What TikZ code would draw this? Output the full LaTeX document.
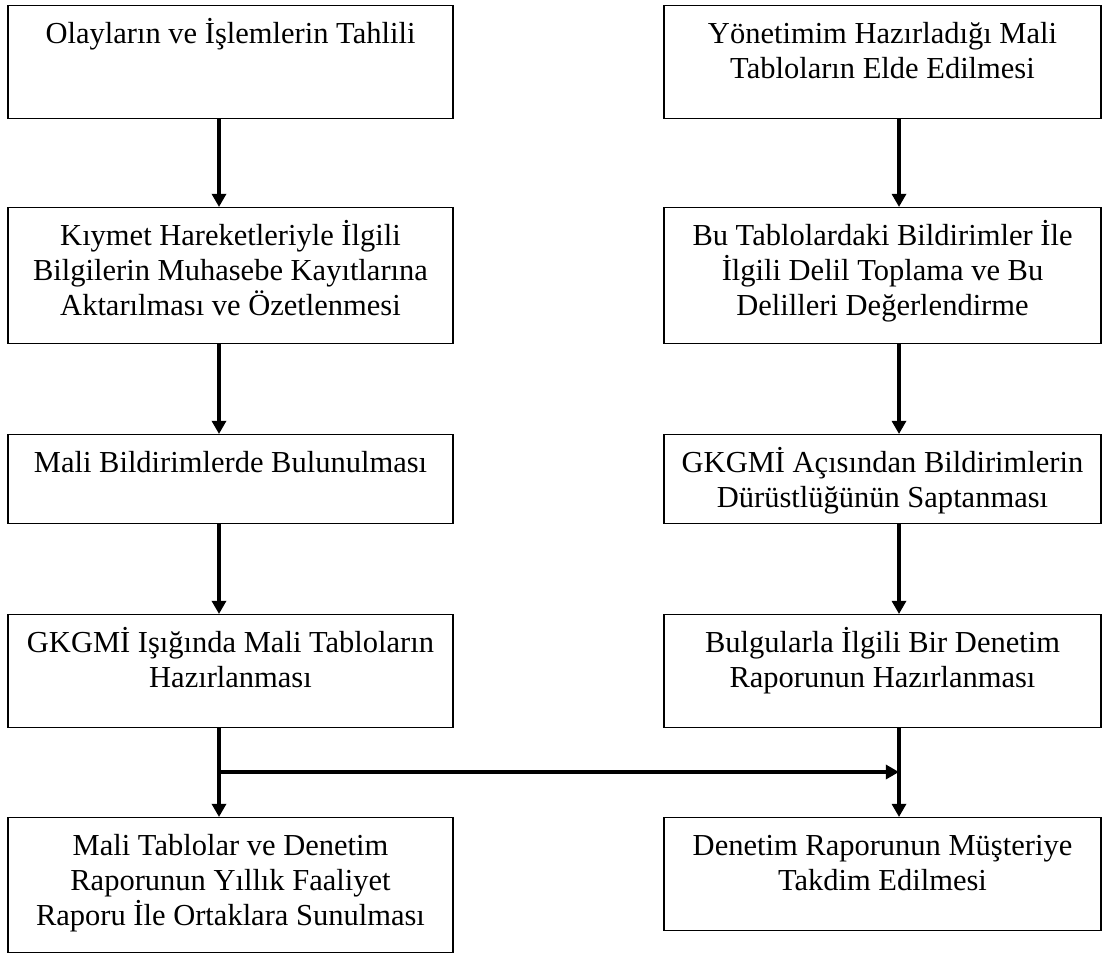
\documentclass[tikz,border=0pt]{standalone}
\usepackage{fontspec}
\setmainfont{Liberation Serif}
\usetikzlibrary{arrows.meta,positioning}

\begin{document}
\begin{tikzpicture}[>={Triangle[width=0.35cm,length=0.33cm]},
        box/.style={draw, line width=1pt, anchor=north, inner sep=0pt},
        lbox/.style={box, minimum width=11.125cm},
        rbox/.style={box, minimum width=10.925cm},
        txt/.style={inner sep=0pt, align=flush center, text width=10.6cm,
            font=\fontsize{21.7}{24.9}\selectfont,
            execute at begin node={\rule{0pt}{0.7cm}}},
        arr/.style={->, line width=2.4pt}]
        \useasboundingbox (0,0) rectangle (27.6,-23.85);
        \coordinate (lx) at (5.475,0);
        \coordinate (rx) at (22.475,0);
        \coordinate (fork) at (0,-19.3);
        % left column
        \node[lbox, minimum height=2.825cm] (l1) at (5.7625,-0.125) {};
        \node[lbox, minimum height=3.4cm] (l2) at (5.7625,-5.175) {};
        \node[lbox, minimum height=2.225cm] (l3) at (5.7625,-10.85) {};
        \node[lbox, minimum height=2.825cm] (l4) at (5.7625,-15.35) {};
        \node[lbox, minimum height=3.375cm] (l5) at (5.7625,-20.425) {};
        \node[txt, below=0.25cm of l1.north] (l1t) {Olayların ve İşlemlerin Tahlili};
        \node[txt, below=0.25cm of l2.north] (l2t) {Kıymet Hareketleriyle İlgili\\Bilgilerin Muhasebe Kayıtlarına\\Aktarılması ve Özetlenmesi};
        \node[txt, below=0.25cm of l3.north] (l3t) {Mali Bildirimlerde Bulunulması};
        \node[txt, below=0.25cm of l4.north] (l4t) {GKGMİ Işığında Mali Tabloların\\Hazırlanması};
        \node[txt, below=0.25cm of l5.north] (l5t) {Mali Tablolar ve Denetim\\Raporunun Yıllık Faaliyet\\Raporu İle Ortaklara Sunulması};
        % right column
        \node[rbox, minimum height=2.825cm] (r1) at (22.0625,-0.125) {};
        \node[rbox, minimum height=3.4cm] (r2) at (22.0625,-5.175) {};
        \node[rbox, minimum height=2.225cm] (r3) at (22.0625,-10.85) {};
        \node[rbox, minimum height=2.825cm] (r4) at (22.0625,-15.35) {};
        \node[rbox, minimum height=2.825cm] (r5) at (22.0625,-20.425) {};
        \node[txt, below=0.25cm of r1.north] (r1t) {Yönetimim Hazırladığı Mali\\Tabloların Elde Edilmesi};
        \node[txt, below=0.25cm of r2.north] (r2t) {Bu Tablolardaki Bildirimler İle\\İlgili Delil Toplama ve Bu\\Delilleri Değerlendirme};
        \node[txt, below=0.25cm of r3.north] (r3t) {GKGMİ Açısından Bildirimlerin\\Dürüstlüğünün Saptanması};
        \node[txt, below=0.25cm of r4.north] (r4t) {Bulgularla İlgili Bir Denetim\\Raporunun Hazırlanması};
        \node[txt, below=0.25cm of r5.north] (r5t) {Denetim Raporunun Müşteriye\\Takdim Edilmesi};
        % arrows
        \foreach \a/\b in {l1/l2, l2/l3, l3/l4, l4/l5}
            \draw[arr] (\a.south -| lx) -- (\b.north -| lx);
        \foreach \a/\b in {r1/r2, r2/r3, r3/r4, r4/r5}
            \draw[arr] (\a.south -| rx) -- (\b.north -| rx);
        \draw[arr] (fork -| lx) -- (fork -| rx);
    \end{tikzpicture}
\end{document}
